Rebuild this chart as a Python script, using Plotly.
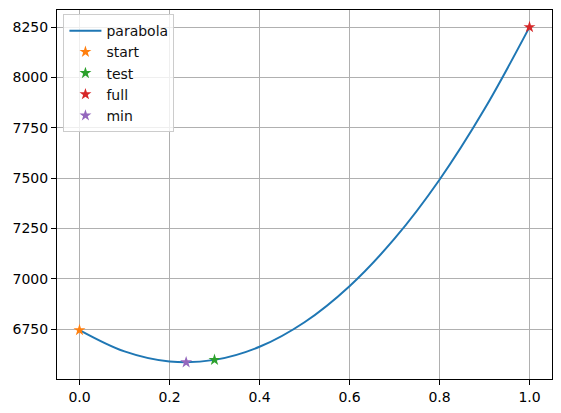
import plotly.graph_objects as go

# parabola values
curve_x = [0.0, 0.1, 0.2, 0.3, 0.4, 0.5, 0.6, 0.7, 0.8, 0.9, 1.0]
curve_y = [6745, 6639, 6589, 6597, 6662, 6784, 6963, 7199, 7492, 7843, 8250]

point_names = ["start", "test", "full", "min"]
point_x = [0.0, 0.3, 1.0, 0.237]
point_y = [6745, 6597, 8250, 6585]
point_colors = ["#ff7f0e", "#2ca02c", "#d62728", "#9467bd"]

x_ticks = [0.0, 0.2, 0.4, 0.6, 0.8, 1.0]
x_ticklabels = ["0.0", "0.2", "0.4", "0.6", "0.8", "1.0"]
y_ticks = [6750, 7000, 7250, 7500, 7750, 8000, 8250]

fig = go.Figure()
fig.add_trace(go.Scatter(x=curve_x, y=curve_y, mode="lines", name="parabola",
                         line=dict(color="#1f77b4", width=2, shape="spline", smoothing=1.0)))
for n, px, py, c in zip(point_names, point_x, point_y, point_colors):
    fig.add_trace(go.Scatter(x=[px], y=[py], mode="markers", name=n,
                             marker=dict(symbol="star", size=9, color=c, line=dict(width=0))))

axis_common = dict(showline=True, mirror=True, linecolor="black", linewidth=1,
                   showgrid=True, gridcolor="#b0b0b0", gridwidth=1, zeroline=False,
                   ticks="outside", ticklen=5, tickcolor="black", tickwidth=1,
                   automargin=False,
                   tickfont=dict(family="DejaVu Sans", size=14, color="black"))

fig.update_layout(
    width=553, height=405,
    margin=dict(l=48.5, r=9, t=2, b=34, autoexpand=False),
    paper_bgcolor="white", plot_bgcolor="white",
    font=dict(family="DejaVu Sans", size=14, color="black"),
    showlegend=True,
    legend=dict(x=0.013, y=0.989, xanchor="left", yanchor="top",
                bgcolor="rgba(255,255,255,0.8)", bordercolor="#cccccc", borderwidth=1,
                font=dict(family="DejaVu Sans", size=14, color="#111"),
                tracegroupgap=0, itemwidth=32),
    xaxis=dict(range=[-0.05, 1.05], tickvals=x_ticks, ticktext=x_ticklabels, **axis_common),
    yaxis=dict(range=[6502, 8335], tickvals=y_ticks, **axis_common),
)

fig.write_html("out.html")
